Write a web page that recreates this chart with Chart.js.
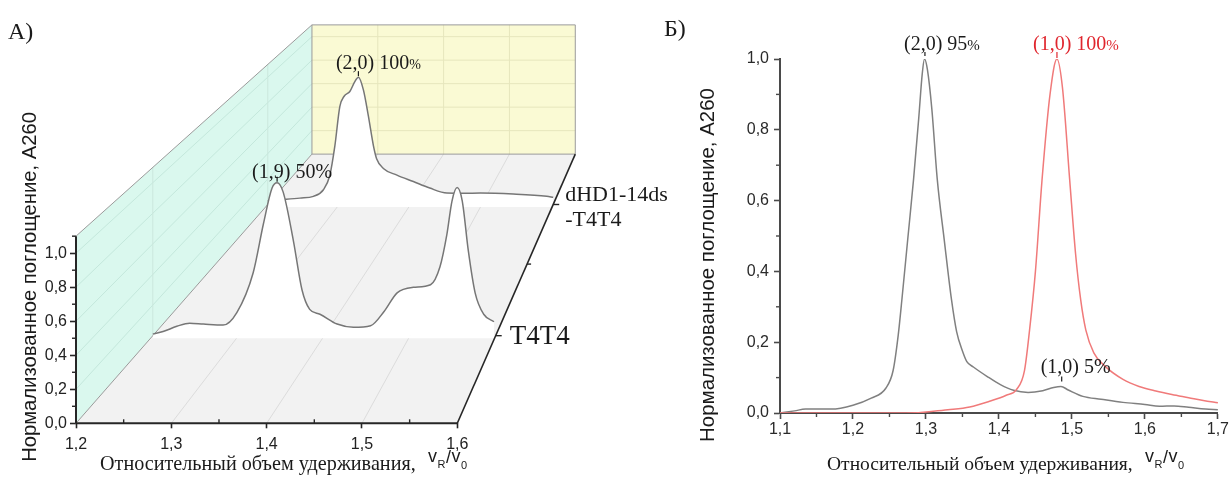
<!DOCTYPE html>
<html lang="ru">
<head>
<meta charset="utf-8">
<title>Waterfall and chromatogram</title>
<script src="https://cdn.jsdelivr.net/npm/chart.js@4.4.1/dist/chart.umd.min.js"></script>
<style>
  html, body { margin:0; padding:0; background:#ffffff; }
  body { width:1230px; height:478px; position:relative; overflow:hidden; }
  canvas { position:absolute; top:0; }
  #ca { left:0; }
  #cb { left:620px; }
</style>
</head>
<body>
<canvas id="ca" width="700" height="478"></canvas>
<canvas id="cb" width="610" height="478"></canvas>
<script>
// ================= Panel A (3D waterfall) data =================
const A_SERIES = ['T4T4', 'dHD1-14ds-T4T4'];
const A_DEPTH = [0.25, 0.75];               // position of each trace along the depth axis (0 = front, 1 = back)
const A_DEPTH_MINOR = [0.5];
const A_T4T4_X = [1.2,1.212,1.228,1.243,1.259,1.282,1.298,1.317,1.329,1.339,1.345,1.352,1.364,1.374,1.383,1.395,1.415,1.434,1.454,1.47,1.485,1.504,1.524,1.535,1.543,1.549,1.555,1.561,1.568,1.576,1.586,1.598];
const A_T4T4_Y = [0.01,0.027,0.061,0.082,0.076,0.069,0.151,0.41,0.73,0.964,1.0,0.94,0.62,0.30,0.172,0.14,0.076,0.055,0.065,0.16,0.28,0.316,0.333,0.45,0.66,0.88,0.968,0.88,0.557,0.28,0.14,0.091];
const A_DHD1_X = [1.2,1.222,1.245,1.264,1.278,1.287,1.294,1.301,1.307,1.315,1.322,1.327,1.334,1.341,1.348,1.3525,1.362,1.381,1.404,1.427,1.451,1.475,1.498,1.544,1.591,1.6];
const A_DHD1_Y = [0.03,0.039,0.05,0.064,0.116,0.23,0.46,0.77,0.85,0.887,0.965,1.0,0.90,0.694,0.463,0.36,0.283,0.231,0.18,0.129,0.09,0.088,0.09,0.082,0.064,0.056];
const A_X_TICKS = [1.2, 1.3, 1.4, 1.5, 1.6];
const A_X_MINOR = [1.25, 1.35, 1.45, 1.55];
const A_Y_TICKS = [0, 0.2, 0.4, 0.6, 0.8, 1.0];
const A_Y_MINOR = [0.1, 0.3, 0.5, 0.7, 0.9, 1.1];
const A_X_RANGE = [1.2, 1.6];
const A_Y_TOP = 1.1;

// ================= Panel B data =================
const B_GRAY_X = [1.10,1.12,1.135,1.17,1.20,1.225,1.245,1.255,1.262,1.267,1.275,1.283,1.29,1.295,1.298,1.302,1.308,1.3155,1.325,1.335,1.342,1.35,1.356,1.365,1.384,1.402,1.42,1.44,1.46,1.475,1.485,1.495,1.515,1.54,1.57,1.60,1.62,1.64,1.66,1.683,1.70];
const B_GRAY_Y = [0,0.006,0.011,0.011,0.022,0.042,0.07,0.12,0.22,0.32,0.49,0.66,0.83,0.96,1.0,0.97,0.86,0.66,0.49,0.32,0.23,0.175,0.145,0.13,0.103,0.08,0.064,0.058,0.063,0.072,0.075,0.065,0.047,0.039,0.030,0.024,0.019,0.020,0.016,0.011,0.009];
const B_RED_X = [1.10,1.20,1.29,1.30,1.33,1.36,1.387,1.41,1.424,1.435,1.442,1.45,1.459,1.47,1.4795,1.487,1.497,1.505,1.512,1.519,1.53,1.546,1.57,1.592,1.615,1.637,1.66,1.68,1.70];
const B_RED_Y = [0,0,0.001,0.003,0.009,0.017,0.033,0.05,0.066,0.12,0.235,0.4,0.657,0.9,1.0,0.92,0.657,0.45,0.32,0.235,0.17,0.131,0.095,0.075,0.062,0.052,0.043,0.035,0.029];
const B_X_TICKS = [1.1, 1.2, 1.3, 1.4, 1.5, 1.6, 1.7];
const B_X_MINOR = [1.15, 1.25, 1.35, 1.45, 1.55, 1.65];
const B_Y_TICKS = [0, 0.2, 0.4, 0.6, 0.8, 1.0];
const B_Y_MINOR = [0.1, 0.3, 0.5, 0.7, 0.9];

// ================= Texts =================
const TITLE_Y = 'Нормализованное поглощение, A260';
const TITLE_X = 'Относительный объем удерживания,';
const PANEL_A = 'А)';
const PANEL_B = 'Б)';

// ================= Styles =================
const SANS = 'Liberation Sans';
const SERIF = 'Liberation Serif';
const AXIS_COLOR = '#262626';
const TEXT_COLOR = '#1a1a1a';
const FLOOR = '#f2f2f2';
const WALL_LEFT = '#daf8ee';
const WALL_BACK = '#fafad4';
const EDGE = '#9a9a9a';
const fmt = v => v.toFixed(1).replace('.', ',');

// perspective of the 3D box, in front-plane data units
const VP_X = 2.0, VP_Y = 5.114, DEPTH_C = 0.448;
function projA(x, y, z) {
  const k = 1 / (1 + DEPTH_C * z);
  return { x: VP_X + (x - VP_X) * k, y: VP_Y + (y - VP_Y) * k };
}
const baseA = z => projA(1.2, 0, z).y;

// geometry of chart area A (front plane)
const A_LEFT = 76, A_BOTTOM = 423.3, A_FRONT_RIGHT = 457.3, A_FRONT_TOP = 232.7;
const A_AREA_RIGHT = 600, A_AREA_TOP = 5;
const A_XMAX = A_X_RANGE[0] + (A_X_RANGE[1] - A_X_RANGE[0]) * (A_AREA_RIGHT - A_LEFT) / (A_FRONT_RIGHT - A_LEFT);
const A_YMAX = A_Y_TOP * (A_BOTTOM - A_AREA_TOP) / (A_BOTTOM - A_FRONT_TOP);

function seg(ctx, a, b, color, w) {
  ctx.beginPath(); ctx.moveTo(a[0], a[1]); ctx.lineTo(b[0], b[1]);
  ctx.strokeStyle = color; ctx.lineWidth = w; ctx.stroke();
}
function poly(ctx, pts, fill, stroke, w) {
  ctx.beginPath(); ctx.moveTo(pts[0][0], pts[0][1]);
  for (let i = 1; i < pts.length; i++) ctx.lineTo(pts[i][0], pts[i][1]);
  ctx.closePath();
  if (fill) { ctx.fillStyle = fill; ctx.fill(); }
  if (stroke) { ctx.strokeStyle = stroke; ctx.lineWidth = w; ctx.stroke(); }
}
function fitFont(ctx, text, family, target) {
  ctx.font = '20px "' + family + '"';
  return 20 * target / ctx.measureText(text).width;
}
function vTitle(ctx, text, cx, cy, len) {
  const s = fitFont(ctx, text, SANS, len);
  ctx.save();
  ctx.font = s + 'px "' + SANS + '"';
  ctx.translate(cx, cy); ctx.rotate(-Math.PI / 2);
  ctx.textAlign = 'center'; ctx.textBaseline = 'middle'; ctx.fillStyle = TEXT_COLOR;
  ctx.fillText(text, 0, 0);
  ctx.restore();
}
function xTitle(ctx, x0, base, width) {
  const s = fitFont(ctx, TITLE_X, SERIF, width);
  ctx.save();
  ctx.fillStyle = TEXT_COLOR; ctx.textAlign = 'left'; ctx.textBaseline = 'alphabetic';
  ctx.font = s + 'px "' + SERIF + '"';
  ctx.fillText(TITLE_X, x0, base);
  let cx = x0 + width + 12;
  const big = '18px "' + SANS + '"', small = '11px "' + SANS + '"';
  const parts = [['v', big, -8], ['R', small, -2], ['/', big, -7], ['v', big, -8], ['0', small, -1]];
  for (const [t, f, dy] of parts) {
    ctx.font = f; ctx.fillText(t, cx, base + dy); cx += ctx.measureText(t).width + 0.5;
  }
  ctx.restore();
}
// label with main text and a (possibly smaller) percent sign, centered at cx
function annot(ctx, main, pctSize, cx, base, color) {
  ctx.save();
  ctx.fillStyle = color; ctx.textBaseline = 'alphabetic'; ctx.textAlign = 'left';
  ctx.font = '20px "' + SERIF + '"';
  const w1 = ctx.measureText(main).width;
  ctx.font = pctSize + 'px "' + SERIF + '"';
  const w2 = ctx.measureText('%').width;
  let x = cx - (w1 + w2) / 2;
  ctx.font = '20px "' + SERIF + '"'; ctx.fillText(main, x, base);
  ctx.font = pctSize + 'px "' + SERIF + '"'; ctx.fillText('%', x + w1, base);
  ctx.restore();
}

// ================= Panel A plugin =================
const pluginA = {
  id: 'box3d',
  beforeDatasetsDraw(chart) {
    const { ctx, scales: { x: sx, y: sy } } = chart;
    const P = (vx, vy, z) => { const p = projA(vx, vy, z); return [sx.getPixelForValue(p.x), sy.getPixelForValue(p.y)]; };
    const [x0, x1] = A_X_RANGE;
    ctx.save();
    // floor, left wall, back wall
    poly(ctx, [P(x0,0,0), P(x1,0,0), P(x1,0,1), P(x0,0,1)], FLOOR);
    poly(ctx, [P(x0,0,0), P(x0,A_Y_TOP,0), P(x0,A_Y_TOP,1), P(x0,0,1)], WALL_LEFT);
    poly(ctx, [P(x0,0,1), P(x1,0,1), P(x1,A_Y_TOP,1), P(x0,A_Y_TOP,1)], WALL_BACK);
    // grid lines
    for (const v of A_X_TICKS.slice(1, -1)) {
      seg(ctx, P(v,0,0), P(v,0,1), '#dcdcdc', 1);
      seg(ctx, P(v,0,1), P(v,A_Y_TOP,1), '#e6e6bd', 1);
    }
    for (const v of A_Y_TICKS.slice(1)) {
      seg(ctx, P(x0,v,0), P(x0,v,1), '#c4e8dc', 1);
      seg(ctx, P(x0,v,1), P(x1,v,1), '#e6e6bd', 1);
    }
    for (const z of A_DEPTH) seg(ctx, P(x0,0,z), P(x0,A_Y_TOP,z), '#cbe7dd', 1);
    // white strips at the trace baselines
    for (const z of A_DEPTH) { const a = P(x0,0,z), b = P(x1,0,z); seg(ctx, [a[0], a[1]+1], [b[0], b[1]+1], '#ffffff', 3); }
    // box edges
    poly(ctx, [P(x0,0,1), P(x1,0,1), P(x1,A_Y_TOP,1), P(x0,A_Y_TOP,1)], null, EDGE, 1);
    seg(ctx, P(x0,A_Y_TOP,0), P(x0,A_Y_TOP,1), EDGE, 1);
    seg(ctx, P(x0,0,0), P(x0,0,1), EDGE, 1);
    ctx.restore();
  },
  afterDraw(chart) {
    const { ctx, scales: { x: sx, y: sy } } = chart;
    const P = (vx, vy, z) => { const p = projA(vx, vy, z); return [sx.getPixelForValue(p.x), sy.getPixelForValue(p.y)]; };
    const [x0, x1] = A_X_RANGE;
    ctx.save();
    // front axes
    seg(ctx, P(x0,0,0), P(x1,0,0), AXIS_COLOR, 2);
    seg(ctx, P(x0,0,0), P(x0,A_Y_TOP,0), AXIS_COLOR, 2);
    for (const v of A_X_MINOR) { const p = P(v,0,0); seg(ctx, p, [p[0], p[1]-4], AXIS_COLOR, 1.4); }
    for (const v of A_Y_MINOR) { const p = P(x0,v,0); seg(ctx, p, [p[0]-4, p[1]], AXIS_COLOR, 1.4); }
    // depth axis
    seg(ctx, P(x1,0,0), P(x1,0,1), AXIS_COLOR, 1.6);
    for (const z of A_DEPTH) { const p = P(x1,0,z); seg(ctx, p, [p[0]+6, p[1]], AXIS_COLOR, 1.4); }
    for (const z of A_DEPTH_MINOR) { const p = P(x1,0,z); seg(ctx, p, [p[0]+4, p[1]], AXIS_COLOR, 1.4); }
    // depth labels
    ctx.fillStyle = TEXT_COLOR; ctx.textAlign = 'left'; ctx.textBaseline = 'middle';
    let p = P(x1,0,A_DEPTH[0]);
    ctx.font = '27px "' + SERIF + '"'; ctx.fillText('T4T4', p[0] + 14, p[1] + 1);
    p = P(x1,0,A_DEPTH[1]);
    ctx.font = '22px "' + SERIF + '"';
    ctx.fillText('dHD1-14ds', p[0] + 12, p[1] - 9);
    ctx.fillText('-T4T4', p[0] + 12, p[1] + 16);
    // peak annotations
    const pk2 = P(1.327, 1.0, A_DEPTH[1]);
    annot(ctx, '(2,0) 100', 14, pk2[0] + 20, pk2[1] - 8.5, TEXT_COLOR);
    seg(ctx, [pk2[0], pk2[1]-6], [pk2[0], pk2[1]-1], TEXT_COLOR, 1.2);
    const pk1 = P(1.345, 1.0, A_DEPTH[0]);
    annot(ctx, '(1,9) 50', 20, pk1[0] + 15, pk1[1] - 5, TEXT_COLOR);
    seg(ctx, [pk1[0], pk1[1]-6], [pk1[0], pk1[1]-1], TEXT_COLOR, 1.2);
    // panel label and titles
    ctx.fillStyle = TEXT_COLOR; ctx.textAlign = 'left'; ctx.textBaseline = 'alphabetic';
    ctx.font = '24px "' + SERIF + '"'; ctx.fillText(PANEL_A, 8, 39);
    vTitle(ctx, TITLE_Y, 30, 287, 350);
    xTitle(ctx, 100, 470, 316);
    ctx.restore();
  }
};

// ================= Panel B plugin =================
const pluginB = {
  id: 'panelB',
  afterDraw(chart) {
    const { ctx, scales: { x: sx, y: sy } } = chart;
    const P = (vx, vy) => [sx.getPixelForValue(vx), sy.getPixelForValue(vy)];
    const OFF = 620;
    ctx.save();
    for (const v of B_X_MINOR) { const p = P(v, 0); seg(ctx, [p[0], p[1]], [p[0], p[1]+4], '#4a4a4a', 1.4); }
    for (const v of B_Y_MINOR) { const p = P(1.1, v); seg(ctx, [p[0], p[1]], [p[0]-4, p[1]], '#4a4a4a', 1.4); }
    // annotations
    let a = P(1.2986, 1.0);
    annot(ctx, '(2,0) 95', 15, a[0] + 17, a[1] - 9, TEXT_COLOR);
    seg(ctx, [a[0], a[1]-7], [a[0], a[1]-3], TEXT_COLOR, 1.2);
    a = P(1.4795, 1.0);
    annot(ctx, '(1,0) 100', 15, a[0] + 19, a[1] - 9, '#e0262e');
    seg(ctx, [a[0], a[1]-7], [a[0], a[1]-1], '#e0262e', 1.2);
    a = P(1.486, 0.075);
    annot(ctx, '(1,0) 5', 20, a[0] + 14, a[1] - 13, TEXT_COLOR);
    seg(ctx, [a[0], a[1]-10], [a[0], a[1]-5], TEXT_COLOR, 1.2);
    // panel label and titles
    ctx.fillStyle = TEXT_COLOR; ctx.textAlign = 'left'; ctx.textBaseline = 'alphabetic';
    ctx.font = '24px "' + SERIF + '"'; ctx.fillText(PANEL_B, 664 - OFF, 36);
    vTitle(ctx, TITLE_Y, 708 - OFF, 265, 354);
    xTitle(ctx, 827 - OFF, 470, 306);
    ctx.restore();
  }
};

Chart.defaults.font.family = SANS;

// ================= Chart A =================
const tickFont = { family: SANS, size: 16 };
new Chart(document.getElementById('ca'), {
  type: 'line',
  data: {
    datasets: [
      {
        label: A_SERIES[0],
        data: A_T4T4_X.map((x, i) => projA(x, A_T4T4_Y[i], A_DEPTH[0])),
        order: 0,
        borderColor: '#767676', borderWidth: 1.5, pointRadius: 0,
        cubicInterpolationMode: 'monotone',
        fill: { value: baseA(A_DEPTH[0]) }, backgroundColor: '#ffffff',
        clip: false
      },
      {
        label: A_SERIES[1],
        data: A_DHD1_X.map((x, i) => projA(x, A_DHD1_Y[i], A_DEPTH[1])),
        order: 1,
        borderColor: '#767676', borderWidth: 1.5, pointRadius: 0,
        cubicInterpolationMode: 'monotone',
        fill: { value: baseA(A_DEPTH[1]) }, backgroundColor: '#ffffff',
        clip: false
      }
    ]
  },
  options: {
    responsive: false, animation: false, events: [],
    layout: { padding: { left: 0, right: 700 - A_AREA_RIGHT, top: A_AREA_TOP, bottom: 0 } },
    plugins: { legend: { display: false }, tooltip: { enabled: false } },
    scales: {
      x: {
        type: 'linear', min: A_X_RANGE[0], max: A_XMAX,
        afterBuildTicks: s => { s.ticks = A_X_TICKS.map(v => ({ value: v })); },
        afterFit: s => { s.height = 478 - A_BOTTOM; },
        border: { display: false },
        grid: { drawOnChartArea: false, drawTicks: true, tickLength: 5, tickColor: AXIS_COLOR, tickWidth: 1.6 },
        ticks: { callback: v => fmt(v), font: tickFont, color: '#222', padding: 7, maxRotation: 0, autoSkip: false }
      },
      y: {
        type: 'linear', min: 0, max: A_YMAX,
        afterBuildTicks: s => { s.ticks = A_Y_TICKS.map(v => ({ value: v })); },
        afterFit: s => { s.width = A_LEFT; },
        border: { display: false },
        grid: { drawOnChartArea: false, drawTicks: true, tickLength: 6, tickColor: AXIS_COLOR, tickWidth: 1.6 },
        ticks: { callback: v => fmt(v), font: tickFont, color: '#222', padding: 3, autoSkip: false }
      }
    }
  },
  plugins: [pluginA]
});

// ================= Chart B =================
new Chart(document.getElementById('cb'), {
  type: 'line',
  data: {
    datasets: [
      {
        label: '(1,0)',
        data: B_RED_X.map((x, i) => ({ x, y: B_RED_Y[i] })),
        order: 0,
        borderColor: '#f07a7a', borderWidth: 1.5, pointRadius: 0,
        cubicInterpolationMode: 'monotone', fill: false
      },
      {
        label: '(2,0)',
        data: B_GRAY_X.map((x, i) => ({ x, y: B_GRAY_Y[i] })),
        order: 1,
        borderColor: '#808080', borderWidth: 1.5, pointRadius: 0,
        cubicInterpolationMode: 'monotone', fill: false
      }
    ]
  },
  options: {
    responsive: false, animation: false, events: [],
    layout: { padding: { left: 0, right: 12, top: 59, bottom: 0 } },
    plugins: { legend: { display: false }, tooltip: { enabled: false } },
    scales: {
      x: {
        type: 'linear', min: 1.1, max: 1.7,
        afterBuildTicks: s => { s.ticks = B_X_TICKS.map(v => ({ value: v })); },
        afterFit: s => { s.height = 65; },
        border: { display: true, color: '#4a4a4a', width: 2 },
        grid: { drawOnChartArea: false, drawTicks: true, tickLength: 6, tickColor: '#4a4a4a', tickWidth: 1.6 },
        ticks: { callback: v => fmt(v), font: tickFont, color: '#2a2a2a', padding: 1, maxRotation: 0, autoSkip: false }
      },
      y: {
        type: 'linear', min: 0, max: 1.0,
        afterBuildTicks: s => { s.ticks = B_Y_TICKS.map(v => ({ value: v })); },
        afterFit: s => { s.width = 160; },
        border: { display: true, color: '#4a4a4a', width: 2 },
        grid: { drawOnChartArea: false, drawTicks: true, tickLength: 6, tickColor: '#4a4a4a', tickWidth: 1.6 },
        ticks: { callback: v => fmt(v), font: tickFont, color: '#2a2a2a', padding: 5, autoSkip: false }
      }
    }
  },
  plugins: [pluginB]
});
</script>
</body>
</html>
